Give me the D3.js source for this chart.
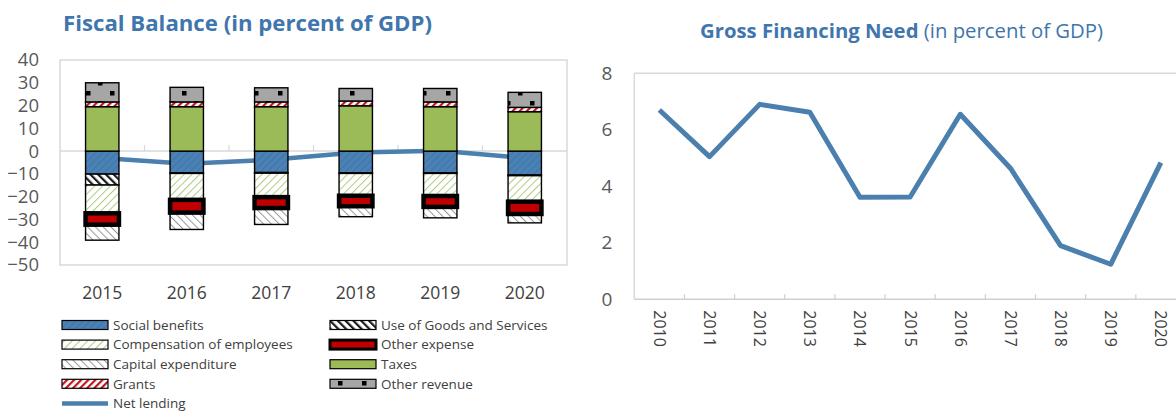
<!DOCTYPE html>
<html>
<head>
<meta charset="utf-8">
<script src="https://cdn.jsdelivr.net/npm/d3@7"></script>
<style>
  html, body { margin: 0; padding: 0; background: #ffffff; }
  svg { display: block; }
  text { font-family: "Open Sans", "Noto Sans", sans-serif; }
</style>
</head>
<body>
<svg id="chart" width="1176" height="413"></svg>
<script>
// ---- Fiscal balance components (percent of GDP) ----
const years = ["2015", "2016", "2017", "2018", "2019", "2020"];
const socialBenefits = [-10.1, -9.5, -9.4, -9.5, -9.5, -10.5];
const useOfGoods     = [-4.8, -0.3, -0.3, -0.3, -0.3, -0.3];
const compensation   = [-12.4, -11.6, -10.5, -9.8, -9.9, -11.4];
const otherExpense   = [-5.0, -5.6, -4.8, -4.6, -4.8, -5.4];
const capitalExp     = [-6.8, -7.4, -7.2, -4.6, -4.8, -3.9];
const taxes          = [19.5, 19.5, 19.5, 19.9, 19.5, 17.3];
const grants         = [2.1, 2.1, 2.1, 2.1, 2.1, 1.9];
const otherRevenue   = [8.4, 6.4, 6.2, 5.5, 5.9, 6.6];
const netLending     = [-3.0, -5.6, -3.8, -0.6, 0.2, -3.1];
const fiscalTicks    = [40, 30, 20, 10, 0, -10, -20, -30, -40, -50];

// ---- Gross financing need (percent of GDP) ----
const gfnYears  = ["2010", "2011", "2012", "2013", "2014", "2015", "2016", "2017", "2018", "2019", "2020"];
const gfnValues = [6.7, 5.05, 6.9, 6.62, 3.61, 3.62, 6.55, 4.64, 1.9, 1.24, 4.84];
const gfnTicks  = [0, 2, 4, 6, 8];

const svg = d3.select("#chart");
const titleBlue = "#3f76ad";
const lineBlue = "#4a7fae";
const tickGrey = "#595959";
const frameGrey = "#d9d9d9";

// ---------- fill patterns ----------
const defs = svg.append("defs");
function stripes(id, bg, color, width, size, dir) {
  const p = defs.append("pattern").attr("id", id)
    .attr("patternUnits", "userSpaceOnUse")
    .attr("width", size).attr("height", size)
    .attr("patternTransform", `rotate(${dir})`);
  p.append("rect").attr("width", size).attr("height", size).attr("fill", bg);
  p.append("rect").attr("x", 0).attr("y", 0).attr("width", width).attr("height", size).attr("fill", color);
}
stripes("pSocial", "#4b82b6", "#4275a6", 1.2, 5, 45);
stripes("pUse", "#ffffff", "#1a1a1a", 2.2, 5.5, -45);
stripes("pComp", "#ffffff", "#afcb84", 1.0, 5.5, 45);
stripes("pCap", "#ffffff", "#999999", 1.0, 5.5, -45);
stripes("pGrant", "#ffffff", "#c0141c", 2.2, 5, 45);
(function () {
  const p = defs.append("pattern").attr("id", "pOtherRev")
    .attr("patternUnits", "userSpaceOnUse").attr("width", 24).attr("height", 20);
  p.append("rect").attr("width", 24).attr("height", 20).attr("fill", "#a6a6a6");
  p.append("rect").attr("x", 2).attr("y", 1).attr("width", 4.5).attr("height", 4.5).attr("fill", "#000");
  p.append("rect").attr("x", 14).attr("y", 11).attr("width", 4.5).attr("height", 4.5).attr("fill", "#000");
})();

// series definitions in stacking order
const negSeries = [
  { name: "Social benefits", values: socialBenefits, fill: "url(#pSocial)", sw: 1.4 },
  { name: "Use of Goods and Services", values: useOfGoods, fill: "url(#pUse)", sw: 1.4 },
  { name: "Compensation of employees", values: compensation, fill: "url(#pComp)", sw: 1.4 },
  { name: "Other expense", values: otherExpense, fill: "#c00000", sw: 4.5 },
  { name: "Capital expenditure", values: capitalExp, fill: "url(#pCap)", sw: 1.4 }
];
const posSeries = [
  { name: "Taxes", values: taxes, fill: "#9bbb59", sw: 1.4 },
  { name: "Grants", values: grants, fill: "url(#pGrant)", sw: 1.4 },
  { name: "Other revenue", values: otherRevenue, fill: "url(#pOtherRev)", sw: 1.4 }
];

// ================= Left: Fiscal Balance =================
const L = { left: 60, right: 567, top: 60, bottom: 265 };
const xL = d3.scaleBand().domain(years).range([L.left, L.right]);
const yL = d3.scaleLinear().domain([-50, 40]).range([L.bottom, L.top]);
const barW = xL.bandwidth() * 0.395;

svg.append("text").attr("x", 63).attr("y", 31)
  .attr("font-size", 21.5).attr("font-weight", 700).attr("fill", titleBlue)
  .attr("textLength", 369).attr("lengthAdjust", "spacingAndGlyphs")
  .text("Fiscal Balance (in percent of GDP)");

// plot frame
svg.append("rect").attr("x", L.left).attr("y", L.top)
  .attr("width", L.right - L.left).attr("height", L.bottom - L.top)
  .attr("fill", "none").attr("stroke", frameGrey).attr("stroke-width", 1.5);

// y axis labels
const yAxisL = d3.axisLeft(yL).tickValues(fiscalTicks).tickSize(0).tickPadding(0);
const gyL = svg.append("g").attr("transform", `translate(${L.left - 21},0)`).call(yAxisL);
gyL.select(".domain").remove();
gyL.selectAll("text").attr("font-size", 18.5).attr("fill", tickGrey)
  .attr("font-family", "'Open Sans', sans-serif");

// zero line with category ticks
svg.append("line").attr("x1", L.left).attr("x2", L.right)
  .attr("y1", yL(0)).attr("y2", yL(0)).attr("stroke", frameGrey).attr("stroke-width", 1.5);
svg.append("g").selectAll("line").data(years.slice(1)).join("line")
  .attr("x1", d => xL(d)).attr("x2", d => xL(d))
  .attr("y1", yL(0)).attr("y2", yL(0) - 6)
  .attr("stroke", frameGrey).attr("stroke-width", 1.2);

// x axis labels
const xAxisL = d3.axisBottom(xL).tickSize(0).tickPadding(0);
const gxL = svg.append("g").attr("transform", `translate(0,${L.bottom + 34})`).call(xAxisL);
gxL.select(".domain").remove();
gxL.selectAll("text").attr("font-size", 17.5).attr("fill", "#404040")
  .attr("font-family", "'Open Sans', sans-serif").attr("dy", 0);

// net lending line (behind the bars)
const nlLine = d3.line().x((d, i) => xL(years[i]) + xL.bandwidth() / 2).y(d => yL(d));
svg.append("path").datum(netLending).attr("d", nlLine)
  .attr("fill", "none").attr("stroke", lineBlue).attr("stroke-width", 4.5)
  .attr("stroke-linejoin", "round");

// stacked bars: compute cumulative segments for each series
function stackSegments(series) {
  const cum = years.map(() => 0);
  return series.map(s => ({
    s,
    segs: years.map((yr, i) => {
      const y0 = cum[i], y1 = cum[i] + s.values[i];
      cum[i] = y1;
      return { yr, y0, y1 };
    })
  }));
}
const allStacks = stackSegments(negSeries).concat(stackSegments(posSeries));
// the heavy-outlined "Other expense" segments are drawn last so the outline stays on top
allStacks.sort((a, b) => (a.s.name === "Other expense") - (b.s.name === "Other expense"));
allStacks.forEach(({ s, segs }) => {
  svg.append("g").selectAll("rect").data(segs).join("rect")
    .attr("x", d => xL(d.yr) + (xL.bandwidth() - barW) / 2)
    .attr("width", barW)
    .attr("y", d => yL(Math.max(d.y0, d.y1)))
    .attr("height", d => Math.abs(yL(d.y0) - yL(d.y1)))
    .attr("fill", s.fill).attr("stroke", "#000").attr("stroke-width", s.sw);
});

// legend
const legendItems = [
  { s: negSeries[0], col: 0, row: 0 },
  { s: negSeries[2], col: 0, row: 1 },
  { s: negSeries[4], col: 0, row: 2 },
  { s: posSeries[1], col: 0, row: 3 },
  { s: negSeries[1], col: 1, row: 0 },
  { s: negSeries[3], col: 1, row: 1 },
  { s: posSeries[0], col: 1, row: 2 },
  { s: posSeries[2], col: 1, row: 3 }
];
const legX = [62, 330], legY0 = 325, legDy = 19.6;
legendItems.forEach(it => {
  const x = legX[it.col], y = legY0 + it.row * legDy;
  svg.append("rect").attr("x", x).attr("y", y - 4.5).attr("width", 46).attr("height", 9)
    .attr("fill", it.s.fill).attr("stroke", "#000")
    .attr("stroke-width", it.s.name === "Other expense" ? 3 : 1.2);
  svg.append("text").attr("x", x + 51).attr("y", y).attr("dy", "0.35em")
    .attr("font-size", 13.5).attr("fill", "#404040").text(it.s.name);
});
svg.append("line").attr("x1", 62).attr("x2", 108)
  .attr("y1", legY0 + 4 * legDy).attr("y2", legY0 + 4 * legDy)
  .attr("stroke", lineBlue).attr("stroke-width", 4.5);
svg.append("text").attr("x", 113).attr("y", legY0 + 4 * legDy).attr("dy", "0.35em")
  .attr("font-size", 13.5).attr("fill", "#404040").text("Net lending");

// ================= Right: Gross Financing Need =================
const R = { left: 634.3, top: 73.3, bottom: 299.3 };
const bandR = 50.15;
const xR = d3.scaleBand().domain(gfnYears).range([R.left, R.left + bandR * gfnYears.length]);
const yR = d3.scaleLinear().domain([0, 8]).range([R.bottom, R.top]);

const tR = svg.append("text").attr("x", 901.5).attr("y", 38).attr("text-anchor", "middle")
  .attr("font-size", 20).attr("fill", titleBlue)
  .attr("textLength", 403).attr("lengthAdjust", "spacingAndGlyphs");
tR.append("tspan").attr("font-weight", 700).text("Gross Financing Need");
tR.append("tspan").text(" (in percent of GDP)");

// frame: left and top edges, bottom axis
svg.append("line").attr("x1", R.left).attr("x2", xR.range()[1]).attr("y1", R.top).attr("y2", R.top)
  .attr("stroke", frameGrey).attr("stroke-width", 1.5);
svg.append("line").attr("x1", R.left).attr("x2", R.left).attr("y1", R.top).attr("y2", R.bottom)
  .attr("stroke", frameGrey).attr("stroke-width", 1.5);
svg.append("line").attr("x1", R.left).attr("x2", xR.range()[1]).attr("y1", R.bottom).attr("y2", R.bottom)
  .attr("stroke", "#d0d0d0").attr("stroke-width", 1.5);
svg.append("g").selectAll("line").data(gfnYears.slice(1)).join("line")
  .attr("x1", d => xR(d)).attr("x2", d => xR(d))
  .attr("y1", R.bottom).attr("y2", R.bottom - 5)
  .attr("stroke", "#d0d0d0").attr("stroke-width", 1.2);

const yAxisR = d3.axisLeft(yR).tickValues(gfnTicks).tickSize(0).tickPadding(0);
const gyR = svg.append("g").attr("transform", `translate(${R.left - 22},0)`).call(yAxisR);
gyR.select(".domain").remove();
gyR.selectAll("text").attr("font-size", 19).attr("fill", tickGrey)
  .attr("font-family", "'Open Sans', sans-serif");

// rotated year labels
svg.append("g").selectAll("text").data(gfnYears).join("text")
  .attr("transform", d => `translate(${xR(d) + xR.bandwidth() / 2},${R.bottom + 11}) rotate(90)`)
  .attr("dy", "0.35em").attr("font-size", 16).attr("fill", "#404040")
  .text(d => d);

const gfnLine = d3.line().x((d, i) => xR(gfnYears[i]) + xR.bandwidth() / 2).y(d => yR(d));
svg.append("path").datum(gfnValues).attr("d", gfnLine)
  .attr("fill", "none").attr("stroke", lineBlue).attr("stroke-width", 5)
  .attr("stroke-linejoin", "round");
</script>
</body>
</html>
